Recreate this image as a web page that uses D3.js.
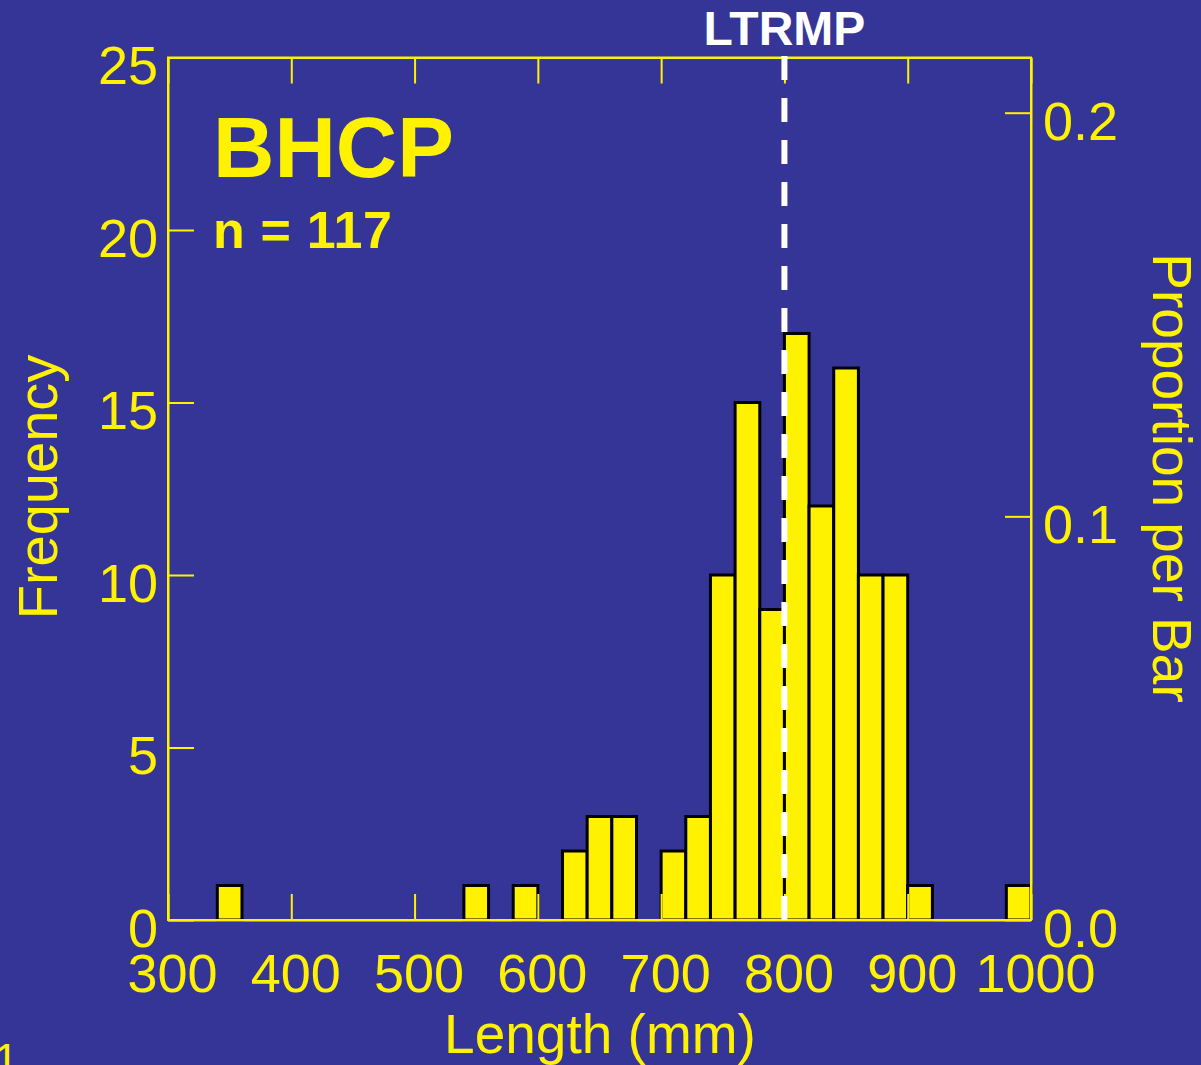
<!DOCTYPE html>
<html>
<head>
<meta charset="utf-8">
<script src="https://cdn.jsdelivr.net/npm/d3@7"></script>
<style>
  html, body { margin: 0; padding: 0; background: #353597; overflow: hidden; }
  svg { display: block; }
  text { font-family: "Liberation Sans", Arial, sans-serif; }
</style>
</head>
<body>
<script>
// ---- data ----
const binStarts = [340, 540, 580, 620, 640, 660, 700, 720, 740, 760, 780, 800, 820, 840, 860, 880, 900, 980];
const counts    = [1,   1,   1,   2,   3,   3,   2,   3,   10,  15,  9,   17,  12,  16,  10,  10,  1,   1];
const binWidth = 20;
const nTotal = 117;
const xTicks = [300, 400, 500, 600, 700, 800, 900, 1000];
const yTicks = [0, 5, 10, 15, 20, 25];
const propTicks = [0.0, 0.1, 0.2];
const refLine = 800;
const title = "BHCP";
const subtitle = "n = 117";
const refLabel = "LTRMP";

// ---- layout ----
const W = 1201, H = 1065;
const pL = 168, pR = 1031, pT = 57.5, pB = 920;
const yellow = "#fff200";
const bg = "#353597";

const svg = d3.select("body").append("svg").attr("width", W).attr("height", H);
svg.append("rect").attr("width", W).attr("height", H).attr("fill", bg);

const x = d3.scaleLinear().domain([300, 1000]).range([pL, pR]);
const y = d3.scaleLinear().domain([0, 25]).range([pB, pT]);
const yp = d3.scaleLinear().domain([0, 25 / nTotal]).range([pB, pT]);

const bars = binStarts.map((s, i) => ({ x0: s, x1: s + binWidth, c: counts[i] }));

// bars
svg.append("g").selectAll("rect").data(bars).join("rect")
  .attr("x", d => x(d.x0))
  .attr("y", d => y(d.c))
  .attr("width", d => x(d.x1) - x(d.x0))
  .attr("height", d => y(0) - y(d.c))
  .attr("fill", yellow)
  .attr("stroke", "#000")
  .attr("stroke-width", 3);

// axes
const tk = -26;
function styleAxis(g) {
  g.selectAll("path.domain").attr("stroke", yellow).attr("stroke-width", 2);
  g.selectAll(".tick line").attr("stroke", yellow).attr("stroke-width", 2);
  g.selectAll(".tick text").attr("fill", yellow).style("font-size", "54px")
    .style("font-family", '"Liberation Sans", Arial, sans-serif');
}

const gLeft = svg.append("g").attr("transform", `translate(${pL},0)`)
  .call(d3.axisLeft(y).tickValues(yTicks).tickSizeInner(tk).tickSizeOuter(0).tickPadding(11).tickFormat(d3.format("d")));
styleAxis(gLeft);
gLeft.selectAll(".tick text").attr("x", -10).attr("dy", "0.49em");

const gBottom = svg.append("g").attr("transform", `translate(0,${pB})`)
  .call(d3.axisBottom(x).tickValues(xTicks).tickSizeInner(tk).tickSizeOuter(0).tickFormat(d3.format("d")));
styleAxis(gBottom);
gBottom.selectAll(".tick text").attr("y", 72).attr("dy", 0).attr("x", 4);

const gTop = svg.append("g").attr("transform", `translate(0,${pT})`)
  .call(d3.axisTop(x).tickValues(xTicks).tickSizeInner(tk).tickSizeOuter(0).tickFormat(""));
styleAxis(gTop);

const gRight = svg.append("g").attr("transform", `translate(${pR},0)`)
  .call(d3.axisRight(yp).tickValues(propTicks).tickSizeInner(tk).tickSizeOuter(0).tickFormat(d3.format(".1f")));
styleAxis(gRight);
gRight.selectAll(".tick text").attr("x", 12).attr("dy", "0.49em");

// frame
svg.append("rect").attr("x", pL).attr("y", pT)
  .attr("width", pR - pL).attr("height", pB - pT)
  .attr("fill", "none").attr("stroke", yellow).attr("stroke-width", 2);

// reference dashed line
svg.append("line")
  .attr("x1", x(refLine)).attr("x2", x(refLine))
  .attr("y1", 56).attr("y2", pB)
  .attr("stroke", "#fff").attr("stroke-width", 6)
  .attr("stroke-dasharray", "24,18");

svg.append("text").attr("x", x(refLine)).attr("y", 45)
  .attr("text-anchor", "middle").attr("fill", "#fff")
  .style("font-size", "48px").style("font-weight", "bold").text(refLabel);

// title texts
svg.append("text").attr("x", 213).attr("y", 177)
  .attr("fill", yellow).style("font-size", "85px").style("font-weight", "bold").text(title);
svg.append("text").attr("x", 213).attr("y", 248)
  .attr("fill", yellow).style("font-size", "52px").style("font-weight", "bold")
  .attr("textLength", 179).text(subtitle);

// axis titles
svg.append("text").attr("transform", `translate(57,487) rotate(-90)`)
  .attr("text-anchor", "middle").attr("fill", yellow)
  .style("font-size", "56px").text("Frequency");
svg.append("text").attr("transform", `translate(1153,478) rotate(90)`)
  .attr("text-anchor", "middle").attr("fill", yellow)
  .style("font-size", "55px").text("Proportion per Bar");
svg.append("text").attr("x", 600).attr("y", 1053)
  .attr("text-anchor", "middle").attr("fill", yellow)
  .style("font-size", "55px").text("Length (mm)");

// stray corner label (clipped at the corner, as in the reference)
svg.append("text").attr("x", -6).attr("y", 1075)
  .attr("fill", yellow).style("font-size", "44px").text("1");
</script>
</body>
</html>
